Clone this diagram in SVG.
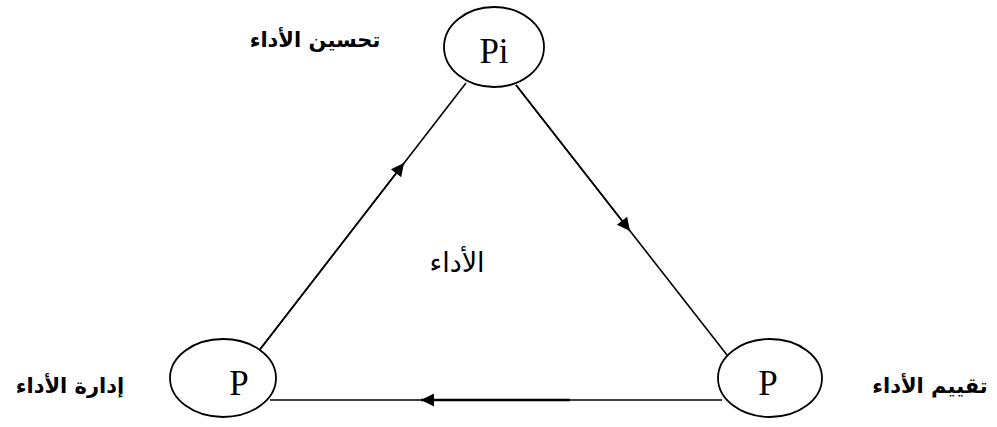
<svg xmlns="http://www.w3.org/2000/svg" width="997" height="427" viewBox="0 0 997 427">
<defs>
<style>
.node{fill:#fff;stroke:#000;stroke-width:1.8}
.lt{font-family:"Liberation Serif","DejaVu Serif",serif;font-size:35px;fill:#000;text-anchor:middle}
.ar{font-family:"DejaVu Sans","Liberation Sans",sans-serif;font-size:21px;font-weight:bold;fill:#000;text-anchor:middle}
.arc{font-family:"DejaVu Sans","Liberation Sans",sans-serif;font-size:27px;fill:#000;text-anchor:middle}
.edge{stroke:#000;stroke-width:1.6;fill:none}
</style>
<marker id="ah" viewBox="0 0 10 10" refX="10" refY="5" markerWidth="17" markerHeight="13" markerUnits="userSpaceOnUse" orient="auto">
<path d="M0,0 L10,5 L0,10 z" fill="#000"/>
</marker>
</defs>
<g id="connectors">
<line class="edge" x1="258" y1="352" x2="466" y2="83"/>
<line class="edge" x1="258" y1="352" x2="404" y2="163" marker-end="url(#ah)"/>
<line class="edge" x1="516" y1="85" x2="727" y2="355"/>
<line class="edge" x1="516" y1="85" x2="630" y2="231" marker-end="url(#ah)"/>
<line class="edge" x1="270" y1="400" x2="722" y2="400"/>
<line class="edge" x1="570" y1="400" x2="421" y2="400" marker-end="url(#ah)" style="stroke-width:2.4"/>
</g>
<g id="node-pi">
<ellipse class="node" cx="494" cy="47" rx="50" ry="40"/>
<text class="lt" x="494" y="63">Pi</text>
</g>
<g id="node-p-left">
<ellipse class="node" cx="223" cy="378" rx="53" ry="39"/>
<text class="lt" x="239" y="395">P</text>
</g>
<g id="node-p-right">
<ellipse class="node" cx="770" cy="378" rx="52" ry="39"/>
<text class="lt" x="768" y="395">P</text>
</g>
<g id="labels">
<text class="ar" x="315" y="47" direction="rtl">تحسين الأداء</text>
<text class="ar" x="70" y="393" direction="rtl">إدارة الأداء</text>
<text class="ar" x="930" y="393" direction="rtl">تقييم الأداء</text>
<text class="arc" x="457" y="272" direction="rtl">الأداء</text>
</g>
</svg>
